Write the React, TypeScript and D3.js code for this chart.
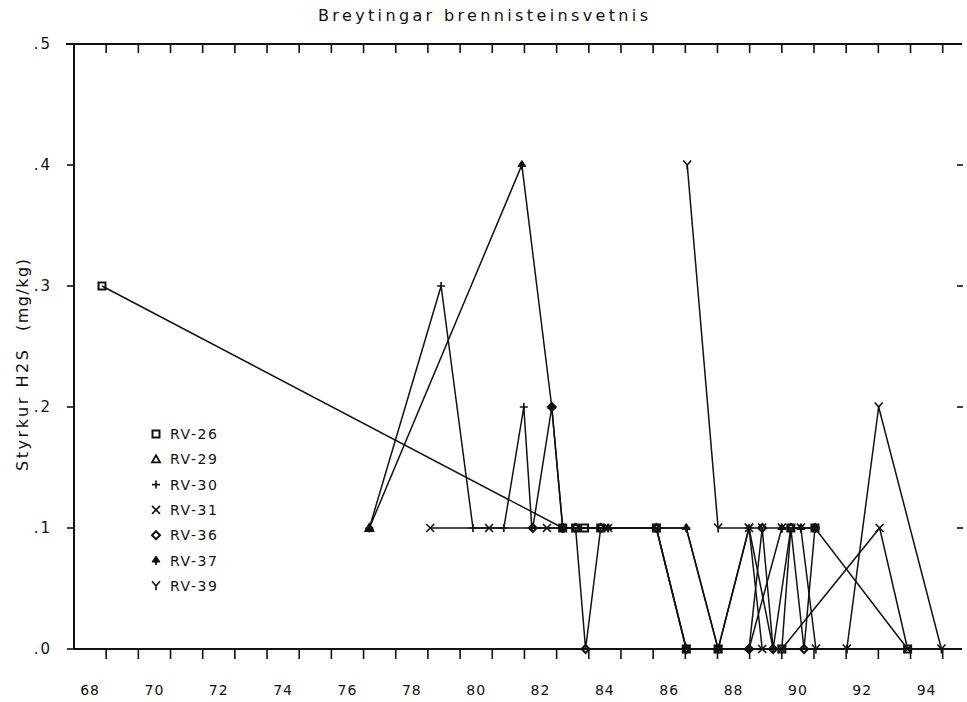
import React from 'react';
import * as d3 from 'd3';

const W = 967;
const H = 702;

const title = 'Breytingar brennisteinsvetnis';
const yLabelMain = 'Styrkur H2S';
const yLabelUnit = '(mg/kg)';

const xTickLabels = [68, 70, 72, 74, 76, 78, 80, 82, 84, 86, 88, 90, 92, 94];
const xMinorTicks = d3.range(68.5, 95, 1);
const yTickValues = [0, 0.1, 0.2, 0.3, 0.4, 0.5];
const yTickLabels = ['.0', '.1', '.2', '.3', '.4', '.5'];

const seriesNames = ['RV-26', 'RV-29', 'RV-30', 'RV-31', 'RV-36', 'RV-37', 'RV-39'];
const seriesMarkers = ['square', 'triangle', 'plus', 'cross', 'diamond', 'spade', 'wye'];

const rv26: [number, number][] = [
  [68.37, 0.3], [82.69, 0.1], [83.09, 0.1], [83.37, 0.1], [83.87, 0.1], [85.6, 0.1],
  [86.53, 0.0], [87.52, 0.0], [89.5, 0.0], [89.78, 0.1], [90.53, 0.1], [93.41, 0.0],
];
const rv29: [number, number][] = [[76.68, 0.1]];
const rv30: [number, number][] = [
  [76.68, 0.1], [78.91, 0.3], [79.9, 0.1], [80.86, 0.1], [81.48, 0.2], [81.73, 0.1],
  [84.1, 0.1], [86.53, 0.1], [87.52, 0.0], [88.48, 0.1], [89.23, 0.0], [91.52, 0.0],
];
const rv31: [number, number][] = [
  [78.57, 0.1], [80.4, 0.1], [82.2, 0.1], [84.1, 0.1], [85.6, 0.1], [86.53, 0.0],
  [87.52, 0.0], [88.48, 0.1], [88.89, 0.0], [89.5, 0.0], [92.54, 0.1], [93.41, 0.0],
];
const rv36: [number, number][] = [
  [81.76, 0.1], [82.35, 0.2], [82.69, 0.1], [83.09, 0.1], [83.4, 0.0], [83.87, 0.1],
  [85.6, 0.1], [86.53, 0.0], [88.48, 0.0], [88.89, 0.1], [89.23, 0.0], [89.78, 0.1],
  [90.19, 0.0], [90.53, 0.1],
];
const rv37: [number, number][] = [
  [76.68, 0.1], [81.42, 0.4], [82.35, 0.2], [82.69, 0.1], [84.1, 0.1], [86.53, 0.1],
  [87.52, 0.0], [88.48, 0.0], [89.5, 0.1], [90.09, 0.1], [90.53, 0.1],
];
const rv39: [number, number][] = [
  [86.56, 0.4], [87.52, 0.1], [88.48, 0.1], [88.89, 0.1], [89.5, 0.1], [90.09, 0.1],
  [90.56, 0.0], [91.52, 0.0], [92.51, 0.2], [94.46, 0.0],
];

const seriesData = [rv26, rv29, rv30, rv31, rv36, rv37, rv39];

const INK = '#111';
const FONT = '"DejaVu Sans", "Liberation Sans", sans-serif';

function Marker({ kind, x, y }: { kind: string; x: number; y: number }) {
  const t = `translate(${x},${y})`;
  switch (kind) {
    case 'square':
      return <path transform={t} d="M-3.5,-3.5H3.5V3.5H-3.5Z" fill="none" stroke={INK} strokeWidth={2} />;
    case 'triangle':
      return <path transform={t} d="M0,-4L4,3H-4Z" fill="none" stroke={INK} strokeWidth={1.8} />;
    case 'plus':
      return <path transform={t} d="M-4,0H4M0,-4V4" fill="none" stroke={INK} strokeWidth={1.6} />;
    case 'cross':
      return <path transform={t} d="M-4,-4L4,4M-4,4L4,-4" fill="none" stroke={INK} strokeWidth={1.6} />;
    case 'diamond':
      return <path transform={t} d="M0,-4L4,0L0,4L-4,0Z" fill="none" stroke={INK} strokeWidth={2} />;
    case 'spade':
      return (
        <g transform={t}>
          <path d="M0,-4.5L4,1.5H-4Z" fill={INK} stroke={INK} strokeWidth={1} />
          <path d="M0,1V4.5" stroke={INK} strokeWidth={1.8} />
        </g>
      );
    case 'wye':
      return <path transform={t} d="M-4,-4.5L0,0L4,-4.5M0,0V4.5" fill="none" stroke={INK} strokeWidth={1.6} />;
    default:
      return null;
  }
}

export default function App() {
  const x = d3.scaleLinear().domain([67.5, 95.1]).range([74, 962]);
  const y = d3.scaleLinear().domain([0, 0.5]).range([649, 44]);
  const line = d3
    .line<[number, number]>()
    .x((d) => x(d[0]))
    .y((d) => y(d[1]));

  const legendX = 156;
  const legendY0 = 434;
  const legendDy = 25.3;

  return (
    <svg
      width={W}
      height={H}
      viewBox={`0 0 ${W} ${H}`}
      style={{ position: 'absolute', left: 0, top: 0, background: '#fff' }}
    >
      <rect x={0} y={0} width={W} height={H} fill="#fff" />
      {/* title */}
      <text
        x={483}
        y={21}
        textAnchor="middle"
        fontFamily={FONT}
        fontSize={16}
        fill={INK}
        textLength={330}
        lengthAdjust="spacing"
      >
        {title}
      </text>

      {/* y axis label */}
      <g transform="translate(28,471) rotate(-90)">
        <text x={0} y={0} fontFamily={FONT} fontSize={16} fill={INK} textLength={121} lengthAdjust="spacing">
          {yLabelMain}
        </text>
        <text x={140} y={0} fontFamily={FONT} fontSize={16} fill={INK} textLength={72} lengthAdjust="spacing">
          {yLabelUnit}
        </text>
      </g>

      {/* frame */}
      <line x1={66} x2={962} y1={y(0.5)} y2={y(0.5)} stroke={INK} strokeWidth={2} />
      <line x1={x(67.5)} x2={x(67.5)} y1={y(0.5)} y2={y(0)} stroke={INK} strokeWidth={2} />
      <line x1={x(67.5)} x2={962} y1={y(0)} y2={y(0)} stroke={INK} strokeWidth={2} />

      {/* top ticks */}
      {xMinorTicks.map((v) => (
        <line key={`tt${v}`} x1={x(v)} x2={x(v)} y1={y(0.5)} y2={y(0.5) + 9} stroke={INK} strokeWidth={1.6} />
      ))}
      {/* bottom ticks */}
      {xMinorTicks.map((v) => (
        <line key={`bt${v}`} x1={x(v)} x2={x(v)} y1={y(0)} y2={y(0) + 10} stroke={INK} strokeWidth={1.6} />
      ))}
      {/* bottom labels */}
      {xTickLabels.map((v) => (
        <text
          key={`bl${v}`}
          x={x(v)}
          y={695}
          textAnchor="middle"
          fontFamily={FONT}
          fontSize={14}
          fill={INK}
          letterSpacing={1}
        >
          {v}
        </text>
      ))}

      {/* y ticks left and right */}
      {yTickValues.map((v, i) => (
        <g key={`yt${v}`}>
          <line x1={x(67.5) - 7} x2={x(67.5)} y1={y(v)} y2={y(v)} stroke={INK} strokeWidth={1.6} />
          {i > 0 && i < 5 && (
            <line x1={957} x2={963} y1={y(v)} y2={y(v)} stroke={INK} strokeWidth={1.6} />
          )}
          <text
            x={52}
            y={y(v) + 5}
            textAnchor="end"
            fontFamily={FONT}
            fontSize={15}
            fill={INK}
            letterSpacing={2}
          >
            {yTickLabels[i]}
          </text>
        </g>
      ))}

      {/* series lines */}
      {seriesData.map((s, i) => (
        <path key={`l${i}`} d={line(s) || ''} fill="none" stroke={INK} strokeWidth={1.5} />
      ))}
      {/* series markers */}
      {seriesData.map((s, i) =>
        s.map((d, j) => <Marker key={`m${i}-${j}`} kind={seriesMarkers[i]} x={x(d[0])} y={y(d[1])} />)
      )}

      {/* legend */}
      {seriesNames.map((name, i) => (
        <g key={`lg${name}`}>
          <Marker kind={seriesMarkers[i]} x={legendX} y={legendY0 + i * legendDy} />
          <text
            x={170}
            y={legendY0 + i * legendDy + 5}
            fontFamily={FONT}
            fontSize={14}
            fill={INK}
            textLength={47}
            lengthAdjust="spacing"
          >
            {name}
          </text>
        </g>
      ))}
    </svg>
  );
}
